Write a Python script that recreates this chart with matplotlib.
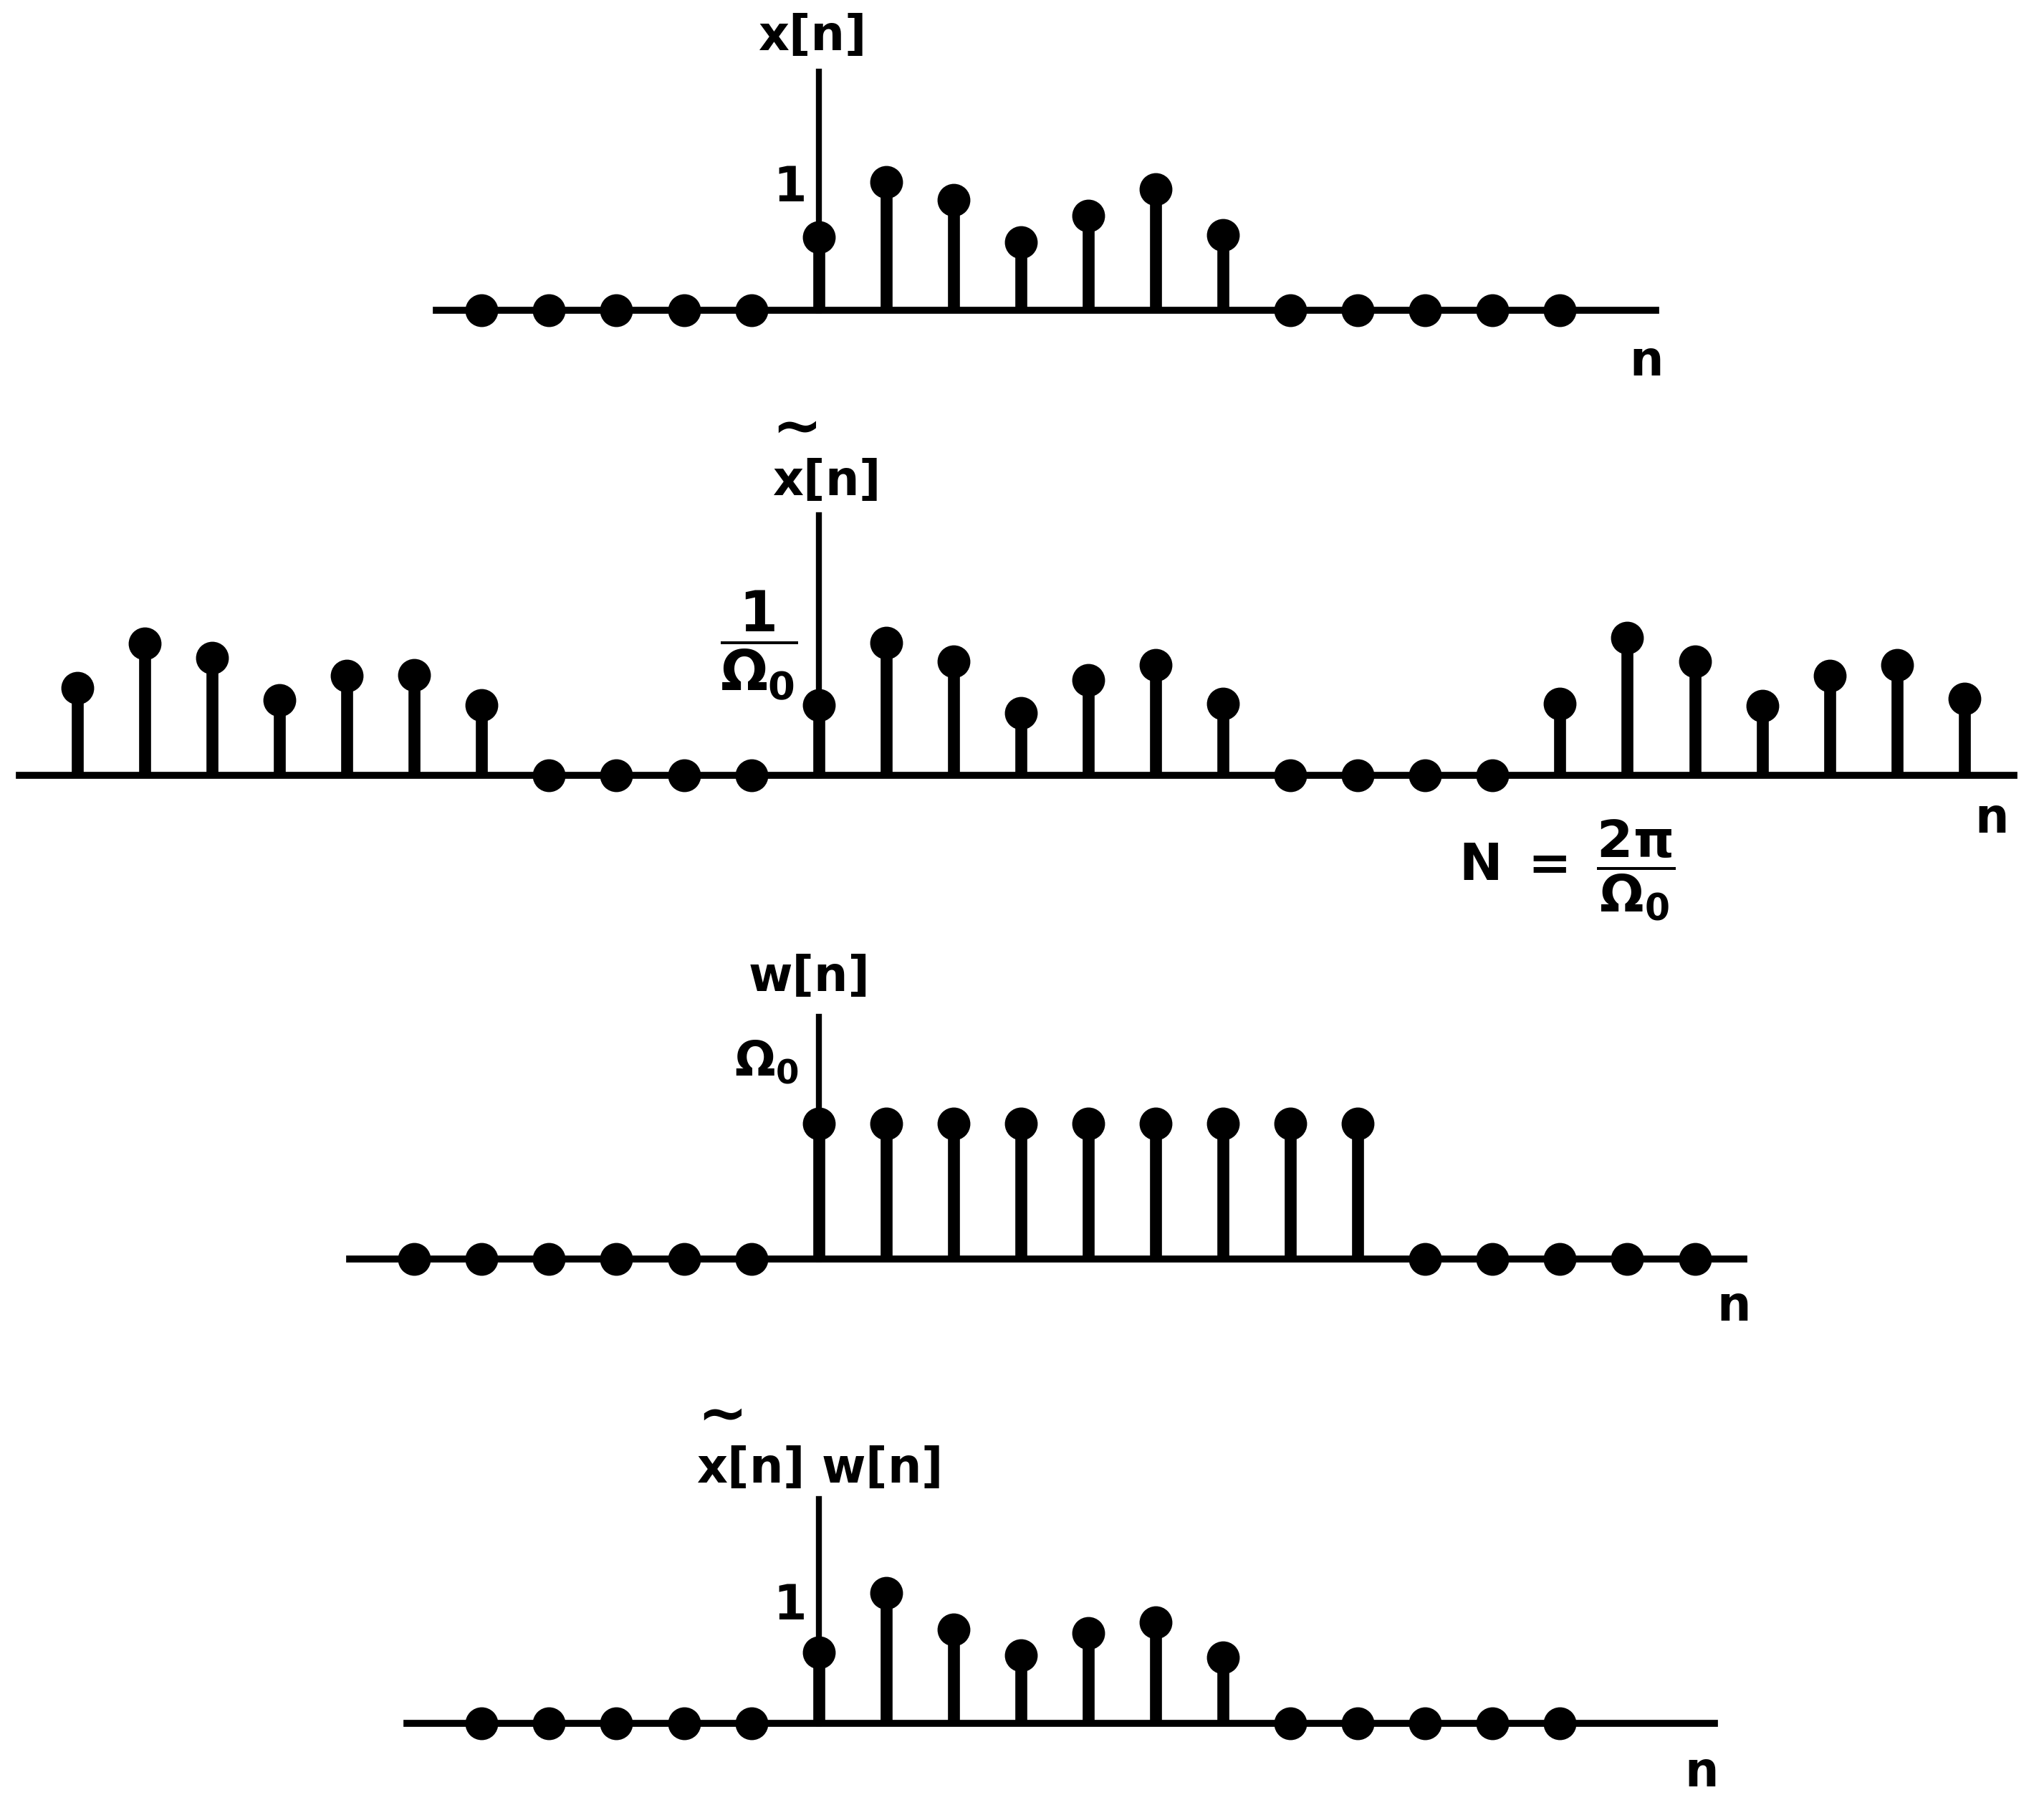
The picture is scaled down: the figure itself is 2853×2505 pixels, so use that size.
import matplotlib
matplotlib.use('Agg')
import matplotlib.pyplot as plt

plt.rcParams['font.family'] = 'DejaVu Sans'
plt.rcParams['font.weight'] = 'bold'
plt.rcParams['mathtext.fontset'] = 'custom'
plt.rcParams['mathtext.rm'] = 'DejaVu Sans:bold'
plt.rcParams['mathtext.it'] = 'DejaVu Sans:bold'
plt.rcParams['mathtext.bf'] = 'DejaVu Sans:bold'

# ---- data (sample index n, sample values) ----
n_x = list(range(-5, 12))
x_vals = [0, 0, 0, 0, 0,
          0.61, 1.07, 0.92, 0.57, 0.79, 1.01, 0.63,
          0, 0, 0, 0, 0]

n_xt = list(range(-11, 18))
xt_vals = [0.73, 1.10, 0.98, 0.63, 0.83, 0.84, 0.59,
           0, 0, 0, 0,
           0.59, 1.11, 0.95, 0.52, 0.80, 0.92, 0.60,
           0, 0, 0, 0,
           0.60, 1.15, 0.95, 0.58, 0.83, 0.92, 0.64]

n_w = list(range(-6, 14))
w_vals = [0, 0, 0, 0, 0, 0,
          1.13, 1.13, 1.13, 1.13, 1.13, 1.13, 1.13, 1.13, 1.13,
          0, 0, 0, 0, 0]

n_xw = list(range(-5, 12))
xw_vals = [0, 0, 0, 0, 0,
           0.59, 1.09, 0.78, 0.57, 0.75, 0.84, 0.55,
           0, 0, 0, 0, 0]

# ---- layout ----
REF_H = 1377.0          # reference height in layout px
UNIT = 92.0             # layout px per value unit
N0, DN = 628.0, 51.7    # x of n=0 and spacing per sample
XLIM = (-N0 / DN, (1568 - N0) / DN)
LO, HI = -0.9, 2.6
FS = 48

fig = plt.figure(figsize=(28.53, 25.05), dpi=100)
fig.patch.set_facecolor('white')


def make_panel(baseline, hbounds, vtop):
    bottom = 1 - (baseline - LO * UNIT) / REF_H
    height = (HI - LO) * UNIT / REF_H
    ax = fig.add_axes([0, bottom, 1, height])
    ax.set_xlim(XLIM)
    ax.set_ylim(LO, HI)
    ax.patch.set_visible(False)
    ax.set_xticks([])
    ax.set_yticks([])
    for s in ['top', 'right']:
        ax.spines[s].set_visible(False)
    ax.spines['bottom'].set_position(('data', 0))
    ax.spines['bottom'].set_bounds(*hbounds)
    ax.spines['bottom'].set_linewidth(7)
    ax.spines['left'].set_position(('data', 0))
    ax.spines['left'].set_bounds(0, vtop)
    ax.spines['left'].set_linewidth(6)
    return ax


def stems(ax, n, v):
    ml, sl, bl = ax.stem(n, v)
    plt.setp(sl, color='k', linewidth=12, capstyle='butt', zorder=3)
    plt.setp(ml, color='k', markersize=32, zorder=4)
    bl.set_visible(False)


def tilde(ax, label, frac):
    # wide tilde sitting above the "x" of a label
    ax.annotate(r'$\sim$', xy=(frac, 1.0), xycoords=label, xytext=(0, 1),
                textcoords='offset points', ha='center', va='bottom',
                fontsize=60)


# panel 1: x[n]
ax1 = make_panel(238, (-5.67, 12.42), 1.99)
stems(ax1, n_x, x_vals)
ax1.text(-0.08, 2.28, 'x[n]', fontsize=FS, ha='center', va='center')
ax1.text(-0.43, 1.02, '1', fontsize=FS, ha='center', va='center')
ax1.text(12.28, -0.43, 'n', fontsize=FS, ha='center', va='center')

# panel 2: periodic extension
ax2 = make_panel(595, (-11.86, 17.74), 2.17)
stems(ax2, n_xt, xt_vals)
t2 = ax2.text(0.1, 2.45, r'$\mathrm{x[n]}$', fontsize=FS,
              ha='center', va='center')
tilde(ax2, t2, 0.15)
ax2.text(-0.89, 1.09, r'$\dfrac{1}{\Omega_0}$', fontsize=56,
         ha='center', va='center')
ax2.text(11.1, -0.79, r'$\mathrm{N}\;=\;\dfrac{2\pi}{\Omega_0}$',
         fontsize=52, ha='center', va='center')
ax2.text(17.41, -0.36, 'n', fontsize=FS, ha='center', va='center')

# panel 3: window w[n]
ax3 = make_panel(966, (-6.96, 13.73), 2.02)
stems(ax3, n_w, w_vals)
ax3.text(-0.14, 2.35, 'w[n]', fontsize=FS, ha='center', va='center')
ax3.text(-0.77, 1.64, r'$\Omega_0$', fontsize=FS, ha='center', va='center')
ax3.text(13.58, -0.40, 'n', fontsize=FS, ha='center', va='center')

# panel 4: product
ax4 = make_panel(1322, (-6.11, 13.29), 1.87)
stems(ax4, n_xw, xw_vals)
t4 = ax4.text(0.0, 2.12, r'$\mathrm{x[n]\ w[n]}$', fontsize=FS,
              ha='center', va='center')
tilde(ax4, t4, 0.07)
ax4.text(-0.43, 0.98, '1', fontsize=FS, ha='center', va='center')
ax4.text(13.1, -0.41, 'n', fontsize=FS, ha='center', va='center')

fig.savefig('out.png', dpi=100, facecolor='white')
